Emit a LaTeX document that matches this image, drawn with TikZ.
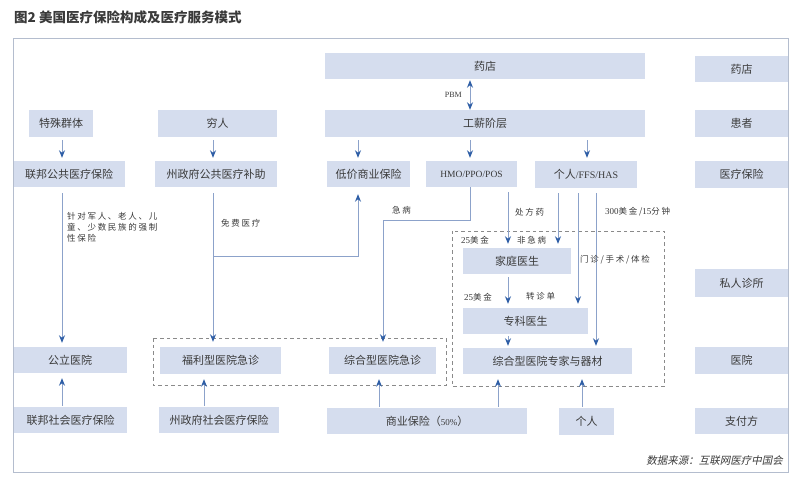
\documentclass[tikz,border=0pt]{standalone}
\usepackage{fontspec}
\setmainfont{Liberation Serif}
\newfontfamily\cjk{Noto Sans CJK SC}
\newfontfamily\lblfont[LetterSpace=20]{Noto Sans CJK SC}
\newfontfamily\srcfont[FakeSlant=0.2]{Noto Sans CJK SC}
\newcommand\latn[1]{{\rmfamily #1}}
\usetikzlibrary{arrows.meta}
\definecolor{boxfill}{HTML}{D5DDEE}
\definecolor{txt}{HTML}{3A3A3A}
\definecolor{lnc}{HTML}{8CA2CA}
\definecolor{tipc}{HTML}{2E5EA6}
\definecolor{framec}{HTML}{B4BDCE}
\definecolor{dashc}{HTML}{8A8A8A}
\tikzset{
  box/.style={fill=boxfill, draw=none, inner sep=0pt, minimum height=26pt, text=txt,
    font=\cjk\fontsize{11}{13}\selectfont},
  arr/.style={draw=lnc, line width=0.8pt, -{Stealth[length=7.5pt,width=6pt,color=tipc]}},
  darr/.style={draw=lnc, line width=0.8pt, {Stealth[length=7.5pt,width=6pt,color=tipc]}-{Stealth[length=7.5pt,width=6pt,color=tipc]}},
  ln/.style={draw=lnc, line width=0.8pt},
  lbl/.style={text=txt, inner sep=0pt, anchor=west, font=\lblfont\fontsize{8.5}{11}\selectfont},
  dbox/.style={draw=dashc, line width=0.8pt, dash pattern=on 3.5pt off 3pt}
}
\begin{document}
\begin{tikzpicture}[x=1pt,y=-1pt]
\useasboundingbox (0,0) rectangle (800,494);
% title
\node[anchor=west, inner sep=0pt, text=txt, font=\cjk\bfseries\fontsize{13.5}{15}\selectfont] (title) at (14,17) {图2\ 美国医疗保险构成及医疗服务模式};
% dashed groups
\draw[dbox] (153,338) rectangle (446,385);
\draw[dbox] (452,231) rectangle (664,386);
% right column
\node[box, minimum width=93pt] (r1) at (741.5,69) {药店};
\node[box, minimum width=93pt, minimum height=27pt] (r2) at (741.5,123.5) {患者};
\node[box, minimum width=93pt, minimum height=27pt] (r3) at (741.5,174.5) {医疗保险};
\node[box, minimum width=93pt, minimum height=28pt] (r4) at (741.5,283) {私人诊所};
\node[box, minimum width=93pt, minimum height=27pt] (r5) at (741.5,360.5) {医院};
\node[box, minimum width=93pt] (r6) at (741.5,421) {支付方};
% top
\node[box, minimum width=320pt] (pharm) at (485,66) {药店};
\node[box, minimum width=320pt, minimum height=27pt] (worker) at (485,123.5) {工薪阶层};
\node[box, minimum width=64pt, minimum height=27pt] (special) at (61,123.5) {特殊群体};
\node[box, minimum width=119pt, minimum height=27pt] (poor) at (217.5,123.5) {穷人};
% insurance
\node[box, minimum width=112pt] (fedpub) at (69,174) {联邦公共医疗保险};
\node[box, minimum width=122pt] (statepub) at (216,174) {州政府公共医疗补助};
\node[box, minimum width=83pt] (lowcost) at (368.5,174) {低价商业保险};
\node[box, minimum width=91pt] (hmo) at (471.5,174) {\latn{\fontsize{9.5}{11}\selectfont HMO/PPO/POS}};
\node[box, minimum width=102pt, minimum height=27pt] (indiv) at (586,174.5) {个人\latn{\fontsize{10}{11}\selectfont /FFS/HAS}};
% clinic
\node[box, minimum width=108pt] (family) at (517,261) {家庭医生};
\node[box, minimum width=125pt] (spec) at (525.5,321) {专科医生};
% hospitals
\node[box, minimum width=169pt] (genhosp) at (547.5,361) {综合型医院专家与器材};
\node[box, minimum width=114pt] (pubhosp) at (70,360) {公立医院};
\node[box, minimum width=121pt, minimum height=27pt] (welfare) at (220.5,360.5) {福利型医院急诊};
\node[box, minimum width=107pt, minimum height=27pt] (gener) at (382.5,360.5) {综合型医院急诊};
% payers
\node[box, minimum width=113pt] (fedsoc) at (70.5,420) {联邦社会医疗保险};
\node[box, minimum width=120pt] (statesoc) at (219,420) {州政府社会医疗保险};
\node[box, minimum width=200pt] (comm) at (427,421) {商业保险（\latn{\fontsize{9}{11}\selectfont 50\%}）};
\node[box, minimum width=55pt, minimum height=27pt] (person) at (586.5,421.5) {个人};
% frame
\draw[framec, line width=1pt] (13,39) rectangle (788,472);
% source
\node[anchor=east, inner sep=0pt, text=txt, font=\srcfont\fontsize{10.5}{12}\selectfont] (src) at (783,461) {数据来源：互联网医疗中国会};
% x coordinates
\coordinate (xa) at (62,0);
\coordinate (xb) at (213,0);
\coordinate (xc) at (358,0);
\coordinate (xd) at (470,0);
\coordinate (xe) at (587,0);
\coordinate (xf) at (508,0);
\coordinate (xg) at (558,0);
\coordinate (xh) at (578,0);
\coordinate (xi) at (596,0);
\coordinate (xj) at (383,0);
\coordinate (xk) at (204,0);
\coordinate (xl) at (379,0);
\coordinate (xm) at (498,0);
\coordinate (xn) at (582,0);
\coordinate (yb) at (0,256);
\coordinate (yd) at (0,220);
% PBM
\draw[darr, shorten <=1pt, shorten >=0pt] (xd |- pharm.south) -- (xd |- worker.north);
\node[anchor=east, inner sep=0pt, text=txt, font=\rmfamily\fontsize{8}{10}\selectfont] (pbm) at (462,95) {PBM};
% top arrows
\draw[arr, shorten <=3pt, shorten >=3pt] (xa |- special.south) -- (xa |- fedpub.north);
\draw[arr, shorten <=3pt, shorten >=3pt] (xb |- poor.south) -- (xb |- statepub.north);
\draw[arr, shorten <=3pt, shorten >=3pt] (xc |- worker.south) -- (xc |- lowcost.north);
\draw[arr, shorten <=3pt, shorten >=3pt] (xd |- worker.south) -- (xd |- hmo.north);
\draw[arr, shorten <=3pt, shorten >=3pt] (xe |- worker.south) -- (xe |- indiv.north);
% federal
\draw[arr, shorten <=6pt, shorten >=4pt] (xa |- fedpub.south) -- (xa |- pubhosp.north);
\node[lbl, anchor=north west, align=left] (lblfed) at (67,212) {针对军人、老人、儿\\童、少数民族的强制\\性保险};
% state
\draw[arr, shorten <=6pt, shorten >=5pt] (xb |- statepub.south) -- (xb |- welfare.north);
\draw[arr, shorten >=7pt] (xb |- yb) -- (xc |- yb) -- (xc |- lowcost.south);
\node[lbl] (lblfree) at (221,223) {免费医疗};
% HMO emergency
\draw[arr, shorten >=5pt] (xd |- hmo.south) -- (xd |- yd) -- (xj |- yd) -- (xj |- gener.north);
\node[lbl] (lblemg) at (392,210) {急病};
% prescription
\draw[arr, shorten <=5pt, shorten >=4pt] (xf |- hmo.south) -- (xf |- family.north);
\node[lbl] (lblrx) at (515,212) {处方药};
% individual
\draw[arr, shorten <=5pt, shorten >=4pt] (xg |- indiv.south) -- (xg |- family.north);
\draw[arr, shorten <=5pt, shorten >=4pt] (xh |- indiv.south) -- (xh |- spec.north);
\draw[arr, shorten <=5pt, shorten >=2pt] (xi |- indiv.south) -- (xi |- genhosp.north);
\node[lbl] (lbl300) at (605,212) {\latn{\fontsize{9}{11}\selectfont 300}美金/\latn{\fontsize{9}{11}\selectfont 15}分钟};
\node[lbl] (lbl25a) at (461,240) {\latn{\fontsize{9}{11}\selectfont 25}美金};
\node[lbl] (lblnon) at (517,240) {非急病};
\node[lbl] (lblop) at (580,260) {门诊/手术/体检};
% clinic chain
\draw[arr, shorten <=3pt, shorten >=4pt] (xf |- family.south) -- (xf |- spec.north);
\node[lbl] (lbl25b) at (464,297) {\latn{\fontsize{9}{11}\selectfont 25}美金};
\node[lbl] (lblref) at (526,296) {转诊单};
\draw[arr, shorten <=2pt, shorten >=2pt] (xf |- spec.south) -- (xf |- genhosp.north);
% payers
\draw[arr, shorten <=1pt, shorten >=5pt] (xa |- fedsoc.north) -- (xa |- pubhosp.south);
\draw[arr, shorten <=1pt, shorten >=5pt] (xk |- statesoc.north) -- (xk |- welfare.south);
\draw[arr, shorten <=1pt, shorten >=5pt] (xl |- comm.north) -- (xl |- gener.south);
\draw[arr, shorten <=1pt, shorten >=5pt] (xm |- comm.north) -- (xm |- genhosp.south);
\draw[arr, shorten <=1pt, shorten >=5pt] (xn |- person.north) -- (xn |- genhosp.south);
\end{tikzpicture}
\end{document}
